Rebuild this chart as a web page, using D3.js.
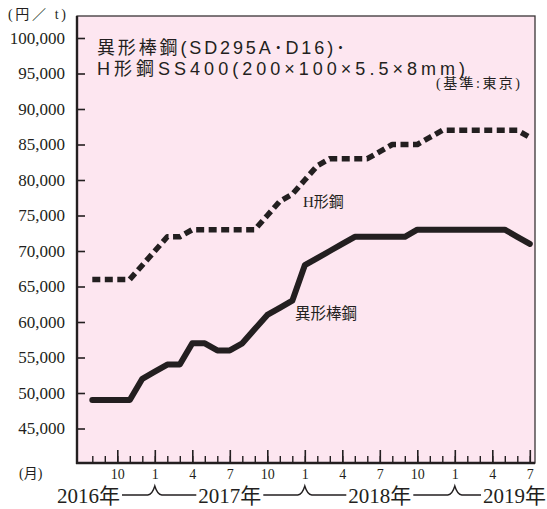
<!DOCTYPE html>
<html lang="ja">
<head>
<meta charset="utf-8">
<title>異形棒鋼・H形鋼</title>
<script src="https://d3js.org/d3.v7.min.js"></script>
<style>
  body { margin: 0; background: #fff; }
  svg text { fill: #231f20; }
</style>
</head>
<body>
<div id="main"></div>
<script>

// months from Aug 2016 to Jul 2019
var months = [8, 9, 10, 11, 12,
              1, 2, 3, 4, 5, 6, 7, 8, 9, 10, 11, 12,
              1, 2, 3, 4, 5, 6, 7, 8, 9, 10, 11, 12,
              1, 2, 3, 4, 5, 6, 7]

// H形鋼 SS400 (円/t)
var hBeam = [66000, 66000, 66000, 66000, 68000,
             70000, 72000, 72000, 73000, 73000, 73000, 73000, 73000, 73000, 75000, 77000, 78000,
             80000, 82000, 83000, 83000, 83000, 83000, 84000, 85000, 85000, 85000, 86000, 87000,
             87000, 87000, 87000, 87000, 87000, 87000, 86000]

// 異形棒鋼 SD295A D16 (円/t)
var rebar = [49000, 49000, 49000, 49000, 52000,
             53000, 54000, 54000, 57000, 57000, 56000, 56000, 57000, 59000, 61000, 62000, 63000,
             68000, 69000, 70000, 71000, 72000, 72000, 72000, 72000, 72000, 73000, 73000, 73000,
             73000, 73000, 73000, 73000, 73000, 72000, 71000]

var labelMonths = [1, 4, 7, 10]
var yTicks = [45000, 50000, 55000, 60000, 65000, 70000, 75000, 80000, 85000, 90000, 95000, 100000]
var years = ["2016年", "2017年", "2018年", "2019年"]
var titleLines = ["異形棒鋼(SD295A･D16)･", "H形鋼SS400(200×100×5.5×8mm)"]

var width = 547, height = 509
var plot = {left: 77, right: 535, top: 16, bottom: 463}
var ink = "#231f20"
var serif = "'Liberation Serif', 'Noto Sans CJK JP', serif"
var gothic = "'Liberation Sans', 'Noto Sans CJK JP', sans-serif"

var svg = d3.select("#main").append("svg")
    .attr("width", width)
    .attr("height", height)

var x = d3.scaleLinear()
    .domain([0, months.length - 1])
    .range([92.3, 529.8])

var y = d3.scaleLinear()
    .domain([40000, 100000])
    .range([464, 38])

// pink panel
svg.append("rect")
    .attr("x", plot.left).attr("y", plot.top)
    .attr("width", plot.right - plot.left)
    .attr("height", plot.bottom - plot.top)
    .attr("fill", "#fde6f0")
    .attr("stroke", "#3a3536")
    .attr("stroke-width", 1.3)

// y axis
var yAxis = svg.append("g")
    .attr("transform", "translate(" + plot.left + ",0)")
    .call(d3.axisLeft(y)
        .tickValues(yTicks)
        .tickSize(-8)
        .tickPadding(12)
        .tickFormat(d3.format(",")))
yAxis.select(".domain").remove()
yAxis.selectAll(".tick line").attr("stroke", ink).attr("stroke-width", 1.6)
yAxis.selectAll(".tick text")
    .attr("font-family", serif)
    .attr("font-size", 17)
    .attr("fill", ink)

// x axis: minor ticks every month, major ticks on 1/4/7/10
var idx = months.map(function(m, i) { return i })
var minor = svg.append("g")
    .attr("transform", "translate(0," + plot.bottom + ")")
    .call(d3.axisBottom(x).tickValues(idx).tickSize(-7).tickFormat(""))
minor.select(".domain").remove()
minor.selectAll(".tick line").attr("stroke", ink).attr("stroke-width", 1.4)

var majorIdx = idx.filter(function(i) { return labelMonths.indexOf(months[i]) >= 0 })
var major = svg.append("g")
    .attr("transform", "translate(0," + plot.bottom + ")")
    .call(d3.axisBottom(x)
        .tickValues(majorIdx)
        .tickSize(-13)
        .tickPadding(6)
        .tickFormat(function(i) { return months[i] }))
major.select(".domain").remove()
major.selectAll(".tick line").attr("stroke", ink).attr("stroke-width", 1.6)
major.selectAll(".tick text")
    .attr("font-family", serif)
    .attr("font-size", 14)
    .attr("fill", ink)

// heavier left and bottom frame lines
svg.append("line")
    .attr("x1", plot.left).attr("x2", plot.left)
    .attr("y1", plot.top).attr("y2", plot.bottom + 1)
    .attr("stroke", ink).attr("stroke-width", 2.4)
svg.append("line")
    .attr("x1", plot.left - 1).attr("x2", plot.right)
    .attr("y1", plot.bottom).attr("y2", plot.bottom)
    .attr("stroke", ink).attr("stroke-width", 2.4)

// series
var line = d3.line()
    .x(function(d, i) { return x(i) })
    .y(function(d) { return y(d) })

svg.append("path")
    .datum(hBeam)
    .attr("d", line)
    .attr("fill", "none")
    .attr("stroke", ink)
    .attr("stroke-width", 5.5)
    .attr("stroke-dasharray", "8,4.5")
    .attr("stroke-linejoin", "round")

svg.append("path")
    .datum(rebar)
    .attr("d", line)
    .attr("fill", "none")
    .attr("stroke", ink)
    .attr("stroke-width", 6)
    .attr("stroke-linejoin", "round")
    .attr("stroke-linecap", "round")

// series labels
svg.append("text")
    .attr("x", 303).attr("y", 207)
    .attr("font-family", serif).attr("font-size", 15)
    .text("H形鋼")
svg.append("text")
    .attr("x", 295).attr("y", 319)
    .attr("font-family", serif).attr("font-size", 15.5)
    .text("異形棒鋼")

// title (one text, two lines)
var title = svg.append("text")
    .attr("font-family", gothic).attr("font-size", 18)
var tLen = [248, 368]
title.selectAll("tspan")
    .data(titleLines)
    .enter().append("tspan")
    .attr("x", 97)
    .attr("y", function(d, i) { return 54 + i * 21 })
    .attr("textLength", function(d, i) { return tLen[i] })
    .attr("lengthAdjust", "spacing")
    .text(function(d) { return d })

svg.append("text")
    .attr("x", 520).attr("y", 88)
    .attr("text-anchor", "end")
    .attr("font-family", serif).attr("font-size", 14)
    .attr("textLength", 84).attr("lengthAdjust", "spacing")
    .text("(基準:東京)")

// units
svg.append("text")
    .attr("x", 8).attr("y", 19)
    .attr("font-family", serif).attr("font-size", 14)
    .attr("textLength", 58).attr("lengthAdjust", "spacing")
    .text("(円／ t)")
svg.append("text")
    .attr("x", 19).attr("y", 478)
    .attr("font-family", serif).attr("font-size", 14)
    .text("(月)")

// year labels with brackets at January
var janIdx = idx.filter(function(i) { return months[i] === 1 })
var yearY = 503, braceY = 495
var yearText = svg.append("g").selectAll("text")
    .data(years)
    .enter().append("text")
    .attr("font-family", serif)
    .attr("font-size", 21)
    .attr("y", yearY)
    .attr("x", function(d, i) {
        if (i === 0) return 57
        if (i === years.length - 1) return 546
        return x(janIdx[i - 1] + 6)
    })
    .attr("text-anchor", function(d, i) {
        if (i === 0) return "start"
        if (i === years.length - 1) return "end"
        return "middle"
    })
    .text(function(d) { return d })

var boxes = yearText.nodes().map(function(n) { return n.getBBox() })
janIdx.forEach(function(j, k) {
    var xj = x(j)
    var p = d3.path()
    p.moveTo(boxes[k].x + boxes[k].width + 2, braceY)
    p.lineTo(xj - 7, braceY)
    p.quadraticCurveTo(xj - 2.5, braceY - 0.5, xj, braceY - 9)
    p.quadraticCurveTo(xj + 2.5, braceY - 0.5, xj + 7, braceY)
    p.lineTo(boxes[k + 1].x - 2, braceY)
    svg.append("path")
        .attr("d", p.toString())
        .attr("fill", "none")
        .attr("stroke", ink)
        .attr("stroke-width", 1.4)
})

</script>
</body>
</html>
